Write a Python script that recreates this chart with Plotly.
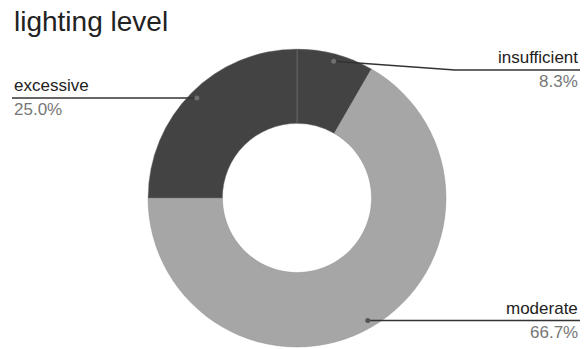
import math
import plotly.graph_objects as go

# ---- data ----
title_text = "lighting level"
categories = ["insufficient", "moderate", "excessive"]
values = [1, 8, 3]
pct_labels = ["8.3%", "66.7%", "25.0%"]

# ---- style / layout ----
colors = ["#434343", "#a6a6a6", "#434343"]
W, H = 585, 349
cx, cy, R = 297, 198, 149
FONT = "Liberation Sans, Arial, sans-serif"

label_side = {"insufficient": "right", "moderate": "right", "excessive": "left"}
label_line_y = {"insufficient": 70, "moderate": None, "excessive": None}
knee_x = {"insufficient": 455}
RIGHT_X, LEFT_X = 580, 12


def px(x):
    return x / W


def py(y):
    return 1 - y / H


fig = go.Figure(
    go.Pie(
        labels=categories,
        values=values,
        sort=False,
        direction="clockwise",
        rotation=0,
        hole=0.5,
        marker=dict(colors=colors, line=dict(color="#8a8a8a", width=0.4)),
        textinfo="none",
        hoverinfo="label+percent",
        showlegend=False,
        domain=dict(x=[px(cx - R), px(cx + R)], y=[py(cy + R), py(cy - R)]),
    )
)

shapes = []
annotations = []
total = sum(values)
cum = 0
for cat, v, pct in zip(categories, values, pct_labels):
    mid = (cum + v / 2) / total
    cum += v
    th = 2 * math.pi * mid
    r = 0.95 * R
    dx, dy = cx + r * math.sin(th), cy - r * math.cos(th)
    side = label_side[cat]
    ly = label_line_y[cat] if label_line_y[cat] is not None else dy
    end_x = RIGHT_X if side == "right" else LEFT_X
    pts = [(dx, dy)]
    if cat in knee_x:
        pts.append((knee_x[cat], ly))
    pts.append((end_x, ly))
    path = "M " + " L ".join(f"{px(a)},{py(b)}" for a, b in pts)
    shapes.append(dict(type="path", xref="paper", yref="paper", path=path,
                       line=dict(color="#333333", width=1.5)))
    dot_col = "#6e6e6e" if colors[categories.index(cat)] == "#434343" else "#555555"
    rr = 2.5
    shapes.append(dict(type="circle", xref="paper", yref="paper",
                       x0=px(dx - rr), x1=px(dx + rr), y0=py(dy + rr), y1=py(dy - rr),
                       fillcolor=dot_col, line=dict(width=0)))
    xa = "right" if side == "right" else "left"
    annotations.append(dict(text=cat, xref="paper", yref="paper", x=px(end_x), y=py(ly - 1),
                            xanchor=xa, yanchor="bottom", showarrow=False,
                            font=dict(family=FONT, size=17, color="#222222")))
    annotations.append(dict(text=pct, xref="paper", yref="paper", x=px(end_x), y=py(ly),
                            xanchor=xa, yanchor="top", showarrow=False,
                            font=dict(family=FONT, size=17, color="#777777")))

annotations.append(dict(text=title_text, xref="paper", yref="paper", x=px(12), y=py(39),
                        xanchor="left", yanchor="bottom", showarrow=False,
                        font=dict(family=FONT, size=28, color="#222222")))

fig.update_layout(
    width=W, height=H,
    margin=dict(l=0, r=0, t=0, b=0),
    paper_bgcolor="white", plot_bgcolor="white",
    shapes=shapes, annotations=annotations,
)

fig.write_html("out.html")
